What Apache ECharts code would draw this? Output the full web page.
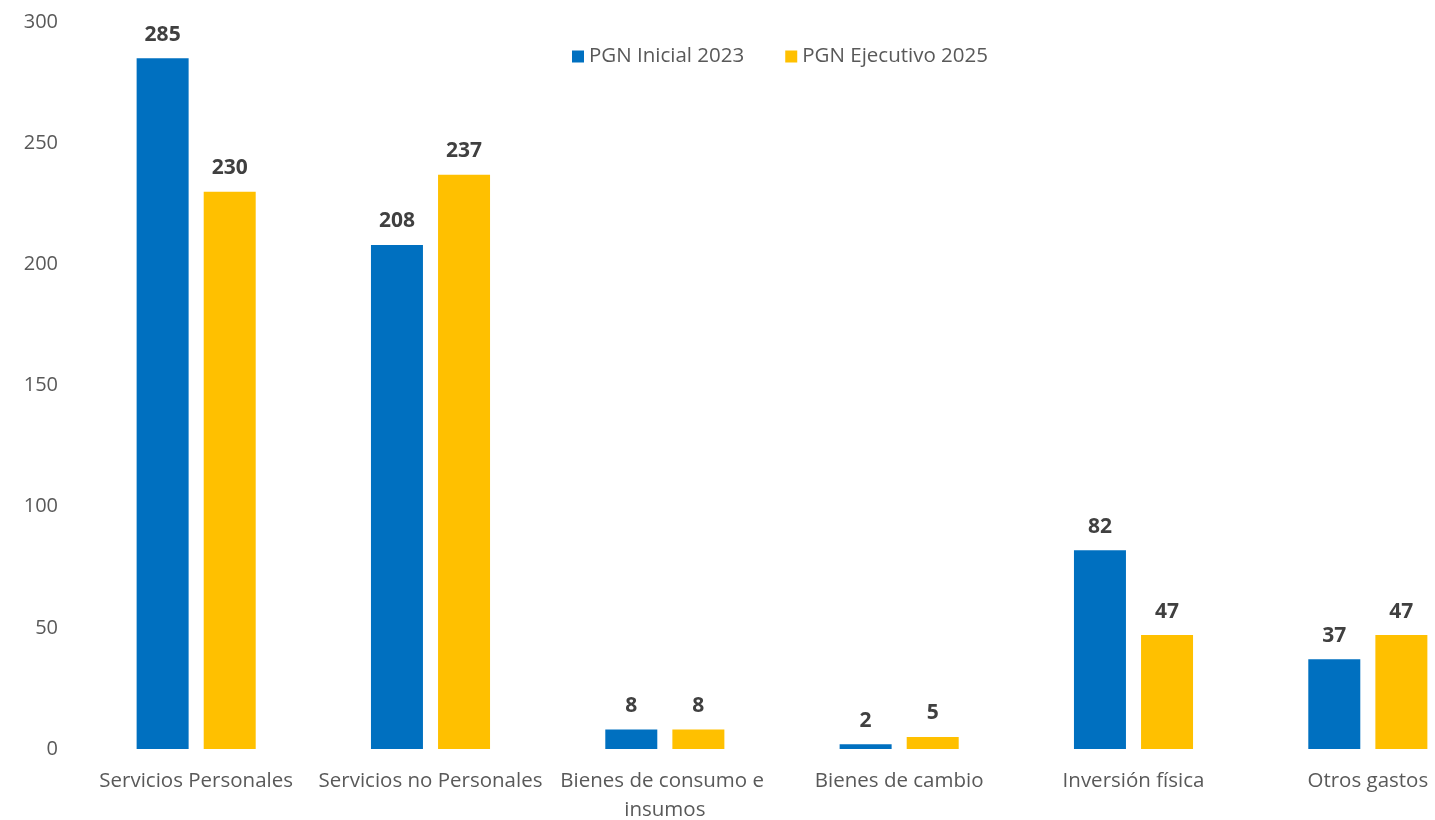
<!DOCTYPE html>
<html>
<head>
<meta charset="utf-8">
<script src="https://cdn.jsdelivr.net/npm/echarts@6/dist/echarts.min.js"></script>
<style>
  html, body { margin: 0; padding: 0; background: #fff; overflow: hidden; }
  #main { width: 1485px; height: 820px; }
</style>
</head>
<body>
<div id="main"></div>
<script>
var categories = ['Servicios Personales', 'Servicios no Personales', 'Bienes de consumo e insumos', 'Bienes de cambio', 'Inversión física', 'Otros gastos'];
var inicial2023 = [285, 208, 8, 2, 82, 37];
var ejecutivo2025 = [230, 237, 8, 5, 47, 47];
var seriesNames = ['PGN Inicial 2023', 'PGN Ejecutivo 2025'];

var font = 'Open Sans';
var myChart = echarts.init(document.getElementById('main'));

// the original plot area runs past the right edge of the picture
function barLabel() {
    return {
        show: true,
        position: 'top',
        distance: 13,
        fontFamily: font,
        fontWeight: 'bold',
        fontSize: 21,
        color: '#404040'
    };
}

var option = {
    animation: false,
    legend: {
        data: seriesNames,
        top: 41,
        left: 567,
        itemWidth: 12,
        itemHeight: 12,
        itemGap: 41,
        icon: 'rect',
        textStyle: { fontFamily: font, fontSize: 20.5, color: '#595959' }
    },
    grid: { left: 79, right: 0, top: 22, bottom: 71, outerBoundsMode: 'none' },
    xAxis: {
        type: 'category',
        data: categories,
        axisLine: { show: false },
        axisTick: { show: false },
        axisLabel: {
            interval: 0,
            margin: 18,
            width: 228,
            overflow: 'break',
            lineHeight: 29,
            fontFamily: font,
            fontSize: 20.5,
            color: '#595959'
        }
    },
    yAxis: {
        type: 'value',
        min: 0,
        max: 300,
        interval: 50,
        splitLine: { show: false },
        axisLabel: { margin: 21, fontFamily: font, fontSize: 20, color: '#595959' }
    },
    series: [
        {
            name: seriesNames[0],
            type: 'bar',
            data: inicial2023,
            barWidth: 52,
            barGap: '29%',
            itemStyle: { color: '#0070C0' },
            label: barLabel()
        },
        {
            name: seriesNames[1],
            type: 'bar',
            data: ejecutivo2025,
            barWidth: 52,
            itemStyle: { color: '#FFC000' },
            label: barLabel()
        }
    ]
};
myChart.setOption(option);
</script>
</body>
</html>
